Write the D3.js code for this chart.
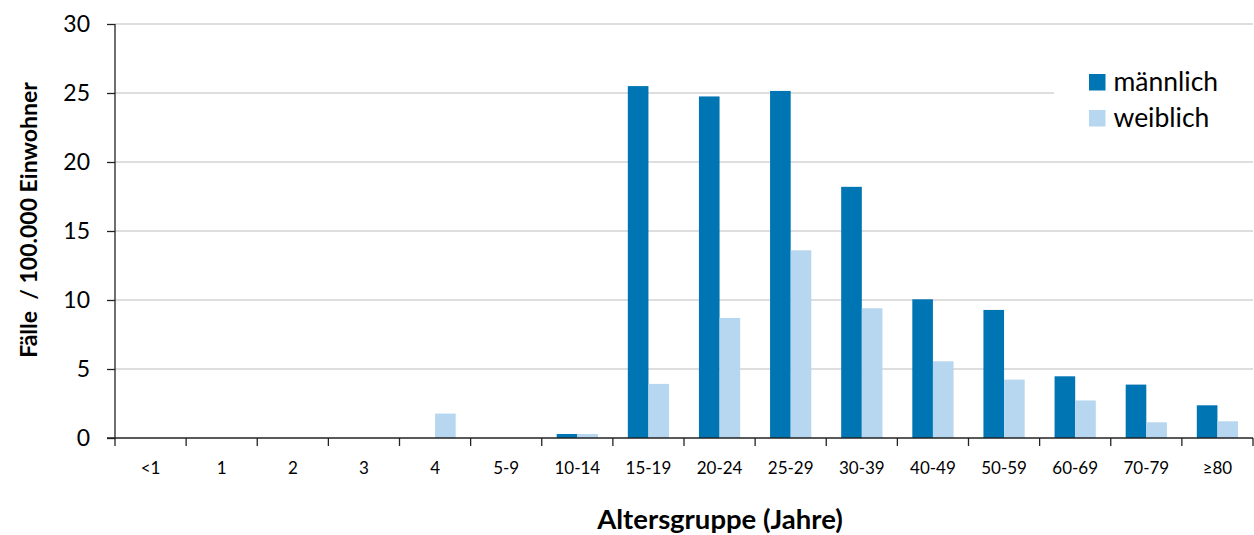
<!doctype html>
<html lang="de">
<head>
<meta charset="utf-8">
<script src="https://d3js.org/d3.v7.min.js"></script>
<style>
  body { margin: 0; background: #fff; }
  text { font-family: Lato, "Open Sans", sans-serif; fill: #000; }
</style>
</head>
<body>
<svg id="chart" width="1254" height="535"></svg>
<script>
// data
const ageGroups = ["<1", "1", "2", "3", "4", "5-9", "10-14", "15-19", "20-24", "25-29",
                   "30-39", "40-49", "50-59", "60-69", "70-79", "≥80"];
const maennlich = [0, 0, 0, 0, 0, 0, 0.29, 25.5, 24.75, 25.15, 18.2, 10.05, 9.28, 4.47, 3.87, 2.37];
const weiblich  = [0, 0, 0, 0, 1.77, 0, 0.29, 3.92, 8.7, 13.6, 9.4, 5.56, 4.23, 2.72, 1.14, 1.21];
const seriesNames = ["männlich", "weiblich"];
const yTicks = [0, 5, 10, 15, 20, 25, 30];

const colors = { "männlich": "#0075b4", "weiblich": "#b6d7ef" };
const margin = { top: 24, right: 1, bottom: 97, left: 115 };
const width = 1254 - margin.left - margin.right;
const height = 535 - margin.top - margin.bottom;

const svg = d3.select("#chart");
const g = svg.append("g").attr("transform", `translate(${margin.left},${margin.top})`);

const x0 = d3.scaleBand().domain(ageGroups).range([0, width]).paddingInner(0.42).paddingOuter(0.21);
const x1 = d3.scaleBand().domain(seriesNames).range([0, x0.bandwidth()]);
const y = d3.scaleLinear().domain([0, 30]).range([height, 0]);

// gridlines
g.append("g")
  .selectAll("line")
  .data(yTicks.slice(1))
  .join("line")
  .attr("x1", 0).attr("x2", width)
  .attr("y1", d => y(d)).attr("y2", d => y(d))
  .attr("stroke", "#bdbdbd").attr("stroke-width", 1.2);

// bars
const rows = ageGroups.map((a, i) => ({ group: a, values: [
  { key: "männlich", value: maennlich[i] },
  { key: "weiblich", value: weiblich[i] }
]}));

g.append("g")
  .selectAll("g")
  .data(rows)
  .join("g")
  .attr("transform", d => `translate(${x0(d.group)},0)`)
  .selectAll("rect")
  .data(d => d.values.filter(v => v.value > 0))
  .join("rect")
  .attr("x", d => x1(d.key))
  .attr("width", x1.bandwidth())
  .attr("y", d => y(d.value))
  .attr("height", d => y(0) - y(d.value))
  .attr("fill", d => colors[d.key]);

// y axis
const yAxis = g.append("g")
  .call(d3.axisLeft(y).tickValues(yTicks).tickSize(8).tickPadding(17));
yAxis.select(".domain").attr("stroke", "#222").attr("stroke-width", 1.3).attr("d", `M0,${y(30)}V${y(0)}`);
yAxis.selectAll(".tick line").attr("stroke", "#222").attr("stroke-width", 1.3);
yAxis.selectAll(".tick text").attr("font-size", 23).style("font-family", "Lato, sans-serif");

// x axis: ticks at band boundaries
const xAxisG = g.append("g").attr("transform", `translate(0,${height})`);
xAxisG.append("line")
  .attr("x1", -8).attr("x2", width)
  .attr("stroke", "#222").attr("stroke-width", 1.3);
const bounds = d3.range(ageGroups.length + 1).map(i => i * width / ageGroups.length);
xAxisG.selectAll(".xt")
  .data(bounds)
  .join("line")
  .attr("class", "xt")
  .attr("x1", d => d).attr("x2", d => d)
  .attr("y1", 0).attr("y2", 8)
  .attr("stroke", "#222").attr("stroke-width", 1.3);
xAxisG.selectAll(".xl")
  .data(ageGroups)
  .join("text")
  .attr("class", "xl")
  .attr("x", d => x0(d) + x0.bandwidth() / 2)
  .attr("y", 35.5)
  .attr("text-anchor", "middle")
  .attr("font-size", 17)
  .text(d => d);

// axis titles
svg.append("text")
  .attr("transform", "translate(37,220) rotate(-90)")
  .attr("text-anchor", "middle")
  .attr("font-size", 23)
  .attr("font-weight", "bold")
  .style("white-space", "pre")
  .text("Fälle  / 100.000 Einwohner");

svg.append("text")
  .attr("x", 720).attr("y", 529)
  .attr("text-anchor", "middle")
  .attr("font-size", 27.5)
  .attr("font-weight", "bold")
  .text("Altersgruppe (Jahre)");

// legend with white background
const legend = svg.append("g").attr("transform", "translate(1054,60)");
legend.append("rect").attr("x", 0).attr("y", 0).attr("width", 199).attr("height", 80).attr("fill", "#fff");
const li = legend.selectAll(".li")
  .data(seriesNames)
  .join("g")
  .attr("class", "li")
  .attr("transform", (d, i) => `translate(35,${14 + i * 36})`);
li.append("rect").attr("width", 16.5).attr("height", 16.5).attr("fill", d => colors[d]);
li.append("text").attr("x", 24.5).attr("y", 16.7).attr("font-size", 26.5).text(d => d);
</script>
</body>
</html>
